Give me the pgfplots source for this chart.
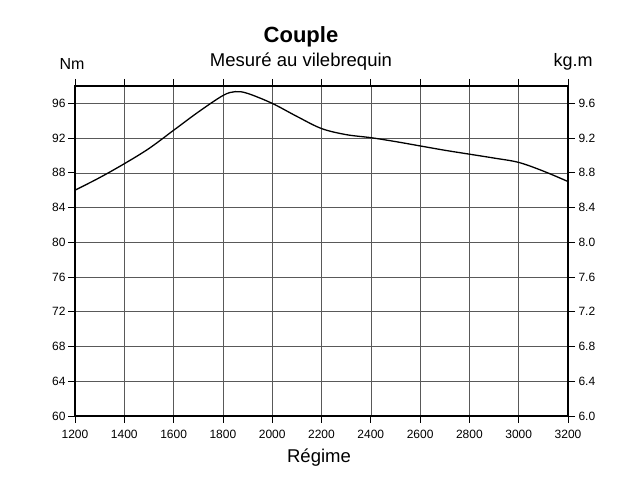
\documentclass[border=0pt]{standalone}
\usepackage{fontspec}
\setmainfont{Liberation Sans}
\usepackage{pgfplots}
\pgfplotsset{compat=1.18}
\begin{document}
\begin{tikzpicture}[x=1pt,y=1pt]
\path[use as bounding box] (0,0) rectangle (640,492);
\pgfplotsset{
  common/.style={
    at={(75pt,76pt)}, anchor=south west, scale only axis,
    width=493pt, height=330pt,
    xmin=1200, xmax=3200,
    tick align=outside, major tick length=7pt,
    tick style={black, line width=0.8pt},
    axis line style={black, line width=1.1pt},
    tick label style={font=\fontsize{12}{14}\selectfont},
    /pgf/number format/assume math mode=true,
  }
}
\begin{axis}[common,
  ymin=60, ymax=98,
  xtick={1200,1400,...,3200}, ytick={60,64,...,96},
  xtick pos=both, ytick pos=left,
  xticklabel pos=lower,
  x tick label style={/pgf/number format/1000 sep={}, yshift=-4pt},
  y tick label style={xshift=1pt},
  grid=major, major grid style={black!65, line width=0.6pt},
]
\addplot[black, line width=1.3pt, smooth, tension=0.55] coordinates {
(1200,86.0) (1300,87.45) (1400,89.05) (1500,90.8) (1600,92.9) (1700,95.0)
(1800,96.9) (1850,97.35) (1900,97.15) (2000,96.0) (2100,94.5) (2200,93.1)
(2300,92.4) (2400,92.05) (2500,91.6) (2600,91.1) (2700,90.6) (2800,90.15)
(2900,89.7) (3000,89.2) (3100,88.2) (3200,87.0)};
\end{axis}
\begin{axis}[common,
  ymin=6.0, ymax=9.8,
  axis y line*=right, axis x line=none,
  ytick={6.0,6.4,6.8,7.2,7.6,8.0,8.4,8.8,9.2,9.6},
  yticklabel style={/pgf/number format/fixed, /pgf/number format/precision=1, /pgf/number format/fixed zerofill},
]
\addplot[draw=none] coordinates {(1200,6.0)};
\end{axis}
\node at (301,455) {\fontsize{22}{24}\selectfont\bfseries Couple};
\node at (301,430) {\fontsize{18.5}{20}\selectfont Mesuré au vilebrequin};
\node at (72,428) {\fontsize{16}{18}\selectfont Nm};
\node at (573,430) {\fontsize{18}{20}\selectfont kg.m};
\node at (319,34) {\fontsize{18.5}{20}\selectfont Régime};
\end{tikzpicture}
\end{document}
